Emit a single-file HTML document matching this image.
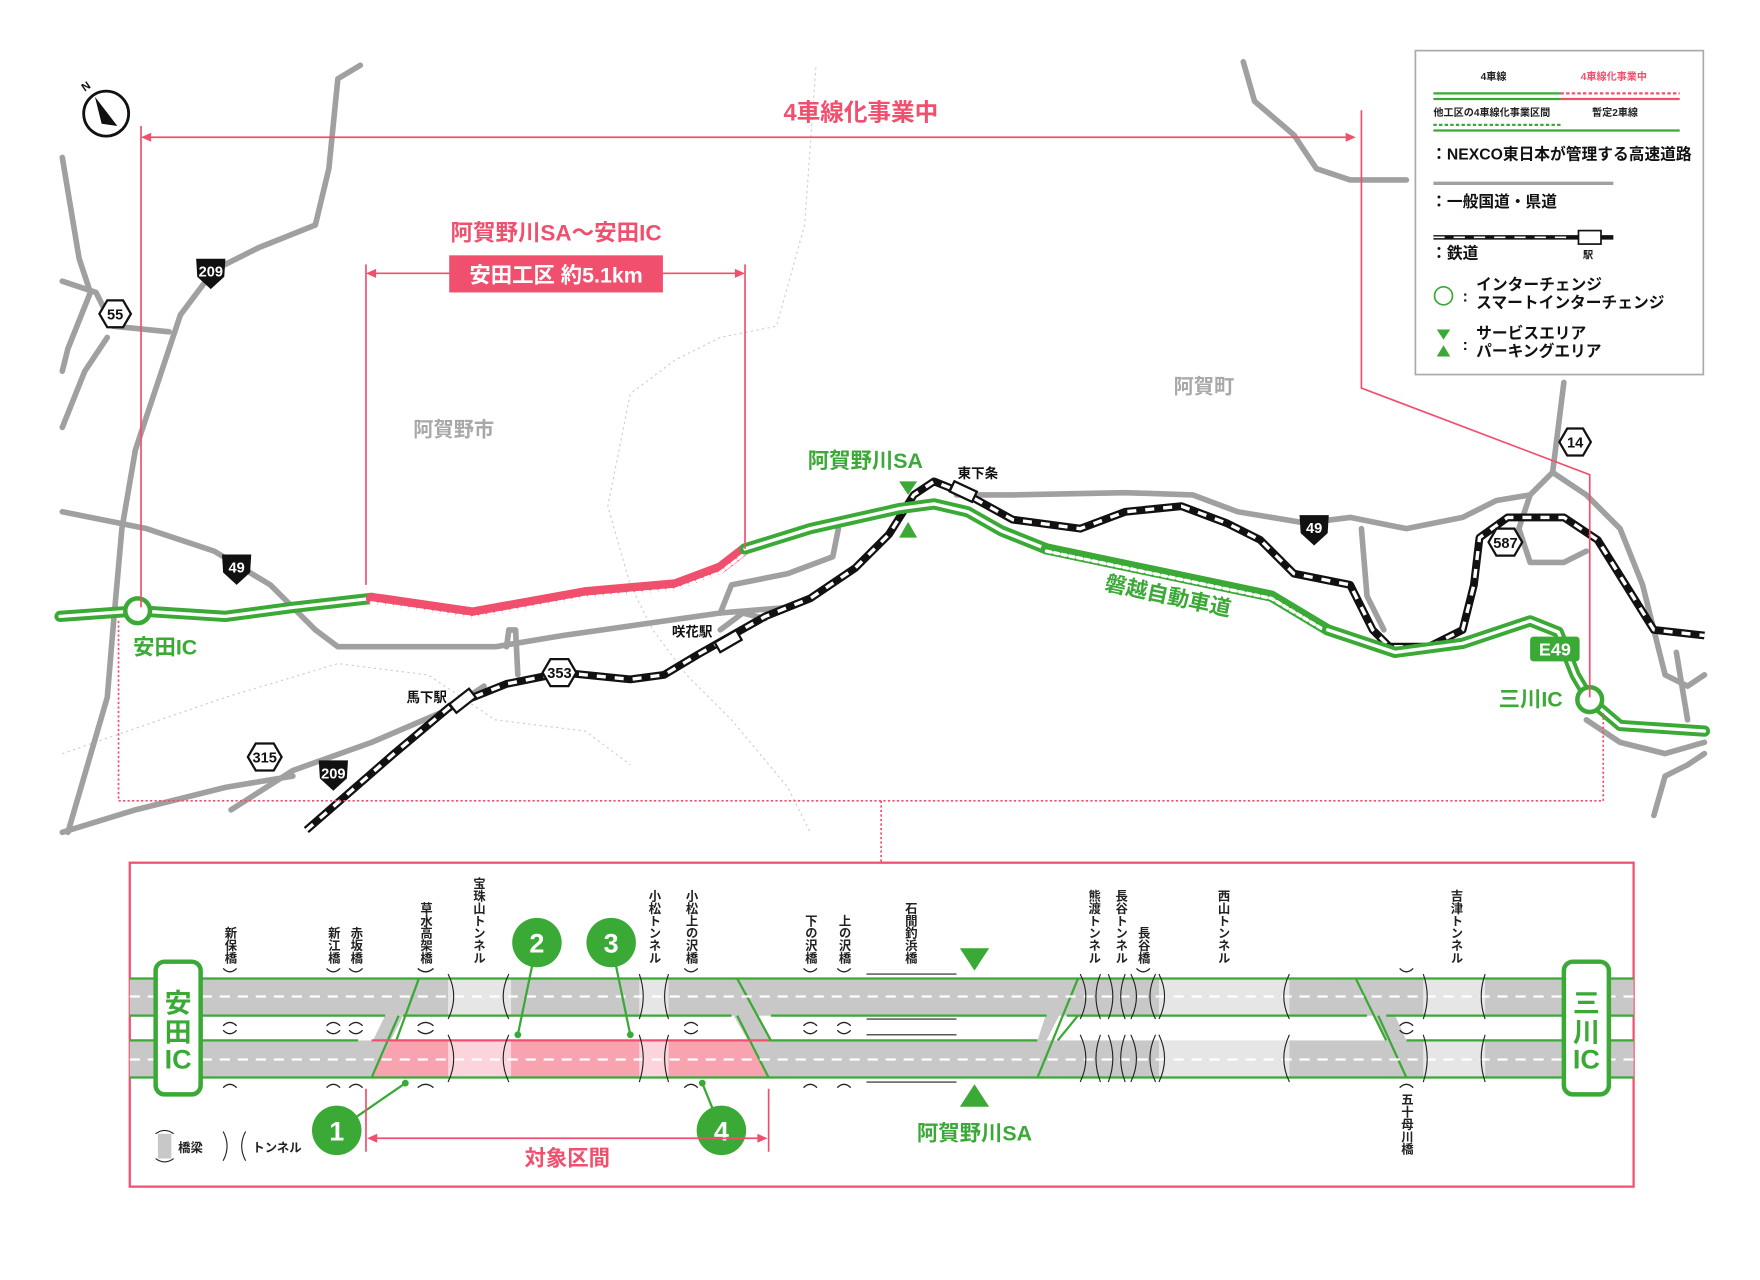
<!DOCTYPE html>
<html><head><meta charset="utf-8"><style>
html,body{margin:0;padding:0;background:#fff}
svg{display:block}
text{font-family:"Liberation Sans","Noto Sans CJK JP",sans-serif;font-weight:bold}
</style></head><body>
<svg width="1760" height="1280" viewBox="0 0 1564 1138" xmlns="http://www.w3.org/2000/svg">
<rect width="1564" height="1138" fill="#fff"/>
<g fill="none" stroke="#ccc" stroke-width="1" stroke-dasharray="2 3">
<path d="M725 60 L715 200 L690 290 L640 300 L600 320 L560 350 L540 450 L560 520 L580 560 L610 600 L650 640 L700 700 L720 740"/>
<path d="M55 670 L200 620 L300 590 L380 600 L440 640 L520 650 L560 680"/>
</g>
<g fill="none" stroke="#a0a0a0" stroke-width="5" stroke-linecap="round" stroke-linejoin="round">
<path d="M320 58 L300 70 L292 150 L280 200 L230 220 L190 240 L160 280 L140 340 L120 400 L108 470 L100 560 L95 620 L60 740"/>
<path d="M55 140 L70 230 L80 260 L60 310 L55 330"/>
<path d="M55 250 L85 260 L100 290 L150 295"/>
<path d="M55 380 L75 330 L95 300"/>
<path d="M55 455 L130 470 L190 490 L240 520 L280 560 L300 575 L440 575 L500 565 L640 545 L700 540"/>
<path d="M640 545 L650 520 L700 510 L740 495 L745 470"/>
<path d="M450 575 L452 560 L458 560 L460 600"/>
<path d="M205 720 L260 685 L330 660 L400 630 L430 610"/>
<path d="M55 740 L120 720 L200 700 L260 690"/>
<path d="M640 560 L660 545 L680 550"/>
<path d="M850 440 L900 440 L1000 438 L1060 440 L1100 455 L1160 465 L1200 460 L1250 470 L1300 460 L1330 445 L1360 440"/>
<path d="M1105 55 L1115 90 L1150 120 L1170 150 L1200 160 L1250 160"/>
<path d="M1390 340 L1385 380 L1380 420 L1360 440 L1350 470 L1360 500 L1390 500 L1410 490"/>
<path d="M1380 420 L1410 440 L1440 470 L1460 520 L1470 560 L1480 600 L1500 610 L1515 600"/>
<path d="M1410 640 L1440 660 L1480 670 L1515 660"/>
<path d="M1470 725 L1480 690 L1500 680 L1515 670"/>
<path d="M1210 470 L1215 530 L1230 560"/>
<path d="M1490 580 L1500 640"/>
</g>
<path d="M272 738 L350 670 L400 628 L450 608 L500 598 L560 604 L590 600 L620 582 L650 565 L680 548 L720 532 L760 505 L790 475 L812 440 L830 428 L860 440 L900 462 L960 470 L1000 455 L1050 450 L1090 465 L1120 480 L1150 510 L1200 520 L1220 560 L1235 575 L1270 575 L1300 560 L1310 520 L1315 478 L1340 460 L1390 460 L1420 480 L1445 520 L1470 560 L1515 565" fill="none" stroke="#111" stroke-width="7" stroke-linejoin="round"/>
<path d="M272 738 L350 670 L400 628 L450 608 L500 598 L560 604 L590 600 L620 582 L650 565 L680 548 L720 532 L760 505 L790 475 L812 440 L830 428 L860 440 L900 462 L960 470 L1000 455 L1050 450 L1090 465 L1120 480 L1150 510 L1200 520 L1220 560 L1235 575 L1270 575 L1300 560 L1310 520 L1315 478 L1340 460 L1390 460 L1420 480 L1445 520 L1470 560 L1515 565" fill="none" stroke="#fff" stroke-width="3" stroke-dasharray="8 8" stroke-linejoin="round"/>
<g fill="#fff" stroke="#111" stroke-width="2">
<rect x="400" y="618" width="22" height="10" transform="rotate(-38 411 623)"/>
<rect x="636" y="565" width="22" height="10" transform="rotate(-30 647 570)"/>
<rect x="845" y="432" width="22" height="10" transform="rotate(25 856 437)"/>
</g>
<g fill="none" stroke-linejoin="round" stroke-linecap="round">
<path d="M53 548 L122 543 L200 548 L260 540 L330 532" stroke="#3aa935" stroke-width="10"/>
<path d="M53 548 L122 543 L200 548 L260 540 L330 532" stroke="#fff" stroke-width="3"/>
<path d="M330 532 L420 545 L520 527 L600 520 L640 505 L662 488" stroke="#f0506e" stroke-width="10"/>
<path d="M330 536 L420 549 L520 531 L600 524 L640 509 L662 492" stroke="#fff" stroke-width="3" stroke-dasharray="4 3"/>
<path d="M330 531 L420 544 L520 526 L600 519 L640 504 L662 487" stroke="#f0506e" stroke-width="3"/>
<path d="M662 488 L720 470 L800 452 L830 448 L860 455 L890 472 L930 488" stroke="#3aa935" stroke-width="10"/>
<path d="M662 488 L720 470 L800 452 L830 448 L860 455 L890 472 L930 488" stroke="#fff" stroke-width="3"/>
<path d="M930 488 L1130 530 L1180 560" stroke="#3aa935" stroke-width="10"/>
<path d="M930 490 L1130 532 L1180 562" stroke="#fff" stroke-width="3" stroke-dasharray="4 3"/>
<path d="M1180 560 L1240 580 L1300 572 L1360 552 L1385 562 L1400 600 L1413 622 L1440 645 L1515 650" stroke="#3aa935" stroke-width="10"/>
<path d="M1180 560 L1240 580 L1300 572 L1360 552 L1385 562 L1400 600 L1413 622 L1440 645 L1515 650" stroke="#fff" stroke-width="3"/>
</g>
<circle cx="122" cy="543" r="11" fill="#fff" stroke="#3aa935" stroke-width="4"/>
<circle cx="1413" cy="622" r="11" fill="#fff" stroke="#3aa935" stroke-width="4"/>
<polygon points="799,428 815,428 807,440" fill="#3aa935"/>
<polygon points="799,478 815,478 807,464" fill="#3aa935"/>
<g stroke="#f0506e" stroke-width="1.5" fill="none">
<path d="M125 112 L125 540"/>
<path d="M131 122 L1199 122"/>
<path d="M1210 98 L1210 345 L1413 422 L1413 620"/>
<path d="M325 235 L325 520"/><path d="M662 235 L662 488"/>
<path d="M331 243 L655 243"/>
<path d="M105 552 L105 712 L1425 712 L1425 632" stroke-dasharray="2 2"/>
<path d="M783 712 L783 767" stroke-dasharray="2 2"/>
</g>
<g fill="#f0506e"><polygon points="125,122 134,118 134,126"/><polygon points="1205,122 1196,118 1196,126"/>
<polygon points="325,243 334,239 334,247"/><polygon points="662,243 653,239 653,247"/></g>
<text x="765" y="107" font-size="21" fill="#f0506e" text-anchor="middle">4車線化事業中</text>
<text x="494" y="214" font-size="20" fill="#f0506e" text-anchor="middle">阿賀野川SA～安田IC</text>
<rect x="399" y="227" width="190" height="33" fill="#f0506e"/>
<text x="494" y="251" font-size="19" fill="#fff" text-anchor="middle">安田工区 約5.1km</text>
<text x="403" y="388" font-size="18" fill="#a8a8a8" text-anchor="middle">阿賀野市</text>
<text x="1070" y="350" font-size="18" fill="#a8a8a8" text-anchor="middle">阿賀町</text>
<text x="769" y="416" font-size="19" fill="#3aa935" text-anchor="middle">阿賀野川SA</text>
<text x="118" y="582" font-size="19" fill="#3aa935">安田IC</text>
<text x="1332" y="628" font-size="19" fill="#3aa935">三川IC</text>
<text x="978" y="537" font-size="19" fill="#3aa935" transform="rotate(12 1040 545)">磐越自動車道</text>
<rect x="1360" y="566" width="44" height="22" rx="3" fill="#3aa935"/>
<text x="1382" y="583" font-size="16" fill="#fff" text-anchor="middle" font-weight="normal">E49</text>
<g font-size="12" fill="#111"><text x="851" y="425">東下条</text><text x="597" y="566">咲花駅</text><text x="361" y="624">馬下駅</text></g>
<g font-size="13" text-anchor="middle">
<g transform="translate(187,242)"><path d="M-13,-12 L13,-12 L12,4 L0,15 L-12,4 Z" fill="#111"/><text y="4" fill="#fff">209</text></g>
<g transform="translate(210,505)"><path d="M-13,-12 L13,-12 L12,4 L0,15 L-12,4 Z" fill="#111"/><text y="4" fill="#fff">49</text></g>
<g transform="translate(1168,470)"><path d="M-13,-12 L13,-12 L12,4 L0,15 L-12,4 Z" fill="#111"/><text y="4" fill="#fff">49</text></g>
<g transform="translate(296,688)"><path d="M-13,-12 L13,-12 L12,4 L0,15 L-12,4 Z" fill="#111"/><text y="4" fill="#fff">209</text></g>
<g transform="translate(102,279)"><polygon points="-14,0 -7,-12 7,-12 14,0 7,12 -7,12" fill="#fff" stroke="#111" stroke-width="2"/><text y="5" fill="#111">55</text></g>
<g transform="translate(1400,393)"><polygon points="-14,0 -7,-12 7,-12 14,0 7,12 -7,12" fill="#fff" stroke="#111" stroke-width="2"/><text y="5" fill="#111">14</text></g>
<g transform="translate(497,598)"><polygon points="-15,0 -8,-12 8,-12 15,0 8,12 -8,12" fill="#fff" stroke="#111" stroke-width="2"/><text y="5" fill="#111">353</text></g>
<g transform="translate(235,673)"><polygon points="-15,0 -8,-12 8,-12 15,0 8,12 -8,12" fill="#fff" stroke="#111" stroke-width="2"/><text y="5" fill="#111">315</text></g>
<g transform="translate(1338,482)"><polygon points="-15,0 -8,-12 8,-12 15,0 8,12 -8,12" fill="#fff" stroke="#111" stroke-width="2"/><text y="5" fill="#111">587</text></g>
</g>
<circle cx="94" cy="101" r="20" fill="#fff" stroke="#111" stroke-width="2.5"/>
<polygon points="84,86 104,112 90,110" fill="#111"/>
<text x="72" y="80" font-size="10" fill="#111" transform="rotate(-35 76 76)">N</text>
<rect x="1258" y="45" width="256" height="288" fill="#fff" stroke="#aaa" stroke-width="1.5"/>
<g font-size="9" fill="#222" font-weight="normal">
<text x="1316" y="71">4車線</text><text x="1405" y="71" fill="#f0506e">4車線化事業中</text>
<text x="1274" y="103">他工区の4車線化事業区間</text><text x="1415" y="103">暫定2車線</text></g>
<g fill="none" stroke-width="2">
<path d="M1274 88 L1387 88 M1274 83 L1387 83" stroke="#3aa935"/>
<path d="M1387 88 L1493 88" stroke="#f0506e"/><path d="M1387 83 L1493 83" stroke="#f0506e" stroke-dasharray="3 2"/>
<path d="M1274 116 L1387 116" stroke="#3aa935"/><path d="M1274 111 L1387 111" stroke="#3aa935" stroke-dasharray="3 2"/>
<path d="M1387 116 L1493 116" stroke="#3aa935"/>
<path d="M1274 163 L1434 163" stroke="#a0a0a0" stroke-width="3"/>
<path d="M1274 211 L1434 211" stroke="#111" stroke-width="4"/>
<path d="M1274 211 L1400 211" stroke="#fff" stroke-width="1.5" stroke-dasharray="10 8"/>
</g>
<rect x="1403" y="205" width="20" height="12" fill="#fff" stroke="#111" stroke-width="1.5"/>
<g font-size="14" fill="#111" font-weight="normal">
<text x="1272" y="142">：NEXCO東日本が管理する高速道路</text>
<text x="1272" y="184">：一般国道・県道</text>
<text x="1272" y="230">：鉄道</text><text x="1407" y="230" font-size="9">駅</text>
<text x="1312" y="258">インターチェンジ</text><text x="1312" y="274">スマートインターチェンジ</text>
<text x="1312" y="301">サービスエリア</text><text x="1312" y="317">パーキングエリア</text>
<text x="1300" y="268">:</text><text x="1300" y="311">:</text></g>
<circle cx="1283" cy="263" r="8" fill="none" stroke="#3aa935" stroke-width="1.5"/>
<polygon points="1277,293 1289,293 1283,302" fill="#3aa935"/><polygon points="1277,317 1289,317 1283,307" fill="#3aa935"/>

<rect x="115" y="767" width="1337" height="288" fill="#fff" stroke="#f0506e" stroke-width="2"/>
<g fill="#c8c8c8">
<rect x="115" y="870" width="1337" height="33"/>
<rect x="115" y="925" width="1337" height="33"/>
<polygon points="335,903 354,870 372,870 352,903"/>
</g>
<rect x="330" y="925" width="353" height="33" fill="#f9a3b1"/>
<g fill="#c8c8c8">
<polygon points="315,958 342,903 358,903 330,958"/>
<polygon points="655,870 685,925 683,958 652,903"/>
<polygon points="940,870 958,870 930,925 922,925"/>
<polygon points="1205,870 1225,870 1250,925 1232,925"/>
</g>
<g fill="#fff" fill-opacity="0.55">
<rect x="398" y="866" width="56" height="96"/><rect x="568" y="866" width="26" height="96"/>
<rect x="1030" y="866" width="116" height="96"/><rect x="1265" y="866" width="55" height="96"/>
</g>
<g stroke="#3aa935" stroke-width="2" fill="none">
<path d="M115 870 L1452 870 M115 958 L1452 958"/>
<path d="M115 903 L342 903 M358 903 L650 903 M683 925 L922 925 M1250 925 L1452 925"/>
<path d="M115 925 L318 925 M685 903 L930 903 M948 903 L1215 903 M1232 903 L1452 903"/>
<path d="M330 958 L354 903 M352 925 L372 870 M655 870 L685 925 M683 958 L655 903"/>
<path d="M922 958 L958 870 M940 925 L958 903"/>
<path d="M1205 870 L1232 925 M1225 903 L1250 958"/>
</g>
<path d="M330 925 L683 925" stroke="#f0506e" stroke-width="2"/>
<g stroke="#fff" stroke-width="2" stroke-dasharray="9 7"><path d="M115 886 L1452 886 M115 942 L1452 942"/></g>
<g stroke="#222" stroke-width="1" fill="none">
<path d="M398 866 Q408 886 398 906 M452 866 Q442 886 452 906 M398 920 Q408 941 398 962 M452 920 Q442 941 452 962"/>
<path d="M568 866 Q575 886 568 906 M594 866 Q587 886 594 906 M568 920 Q575 941 568 962 M594 920 Q587 941 594 962"/>
<path d="M1030 866 Q1040 886 1030 906 M1146 866 Q1136 886 1146 906 M1030 920 Q1040 941 1030 962 M1146 920 Q1136 941 1146 962"/>
<path d="M1265 866 Q1272 886 1265 906 M1320 866 Q1313 886 1320 906 M1265 920 Q1272 941 1265 962 M1320 920 Q1313 941 1320 962"/>
<path d="M960 866 Q970 886 960 906 M978 866 Q970 886 978 906 M985 866 Q993 886 985 906 M1000 866 Q992 886 1000 906 M960 920 Q970 941 960 962 M978 920 Q970 941 978 962 M985 920 Q993 941 985 962 M1000 920 Q992 941 1000 962"/>
<path d="M1005 866 Q1015 886 1005 906 M1027 866 Q1017 886 1027 906 M1005 920 Q1015 941 1005 962 M1027 920 Q1017 941 1027 962"/>
<path d="M770 866 L850 866 M770 906 L850 906 M770 920 L850 920 M770 962 L850 962"/>
</g>
<g stroke="#222" stroke-width="1.2" fill="none">
<path d="M198 861 Q204 867 210 861 M198 912 Q204 906 210 912 M198 916 Q204 922 210 916 M198 967 Q204 961 210 967"/>
<path d="M290 861 Q296 867 302 861 M290 912 Q296 906 302 912 M290 916 Q296 922 302 916 M290 967 Q296 961 302 967"/>
<path d="M310 861 Q316 867 322 861 M310 912 Q316 906 322 912 M310 916 Q316 922 322 916 M310 967 Q316 961 322 967"/>
<path d="M371 861 Q378 867 385 861 M371 912 Q378 906 385 912 M371 916 Q378 922 385 916 M371 967 Q378 961 385 967"/>
<path d="M608 861 Q614 867 620 861 M608 912 Q614 906 620 912 M608 916 Q614 922 620 916 M608 967 Q614 961 620 967"/>
<path d="M714 861 Q720 867 726 861 M714 912 Q720 906 726 912 M714 916 Q720 922 726 916 M714 967 Q720 961 726 967"/>
<path d="M744 861 Q750 867 756 861 M744 912 Q750 906 756 912 M744 916 Q750 922 756 916 M744 967 Q750 961 756 967"/>
<path d="M1244 861 Q1250 867 1256 861 M1244 912 Q1250 906 1256 912 M1244 916 Q1250 922 1256 916 M1244 967 Q1250 961 1256 967"/>
<path d="M1010 861 Q1016 867 1022 861"/>
</g>
<rect x="138" y="855" width="40" height="118" rx="8" fill="#fff" stroke="#3aa935" stroke-width="4"/>
<rect x="1390" y="855" width="40" height="118" rx="8" fill="#fff" stroke="#3aa935" stroke-width="4"/>
<g font-size="24" fill="#3aa935" text-anchor="middle"><text x="158" y="900">安</text><text x="158" y="926">田</text><text x="158" y="950">IC</text>
<text x="1410" y="900">三</text><text x="1410" y="926">川</text><text x="1410" y="950">IC</text></g>
<polygon points="853,843 879,843 866,863" fill="#3aa935"/>
<polygon points="853,984 879,984 866,964" fill="#3aa935"/>
<text x="866" y="1014" font-size="19" fill="#3aa935" text-anchor="middle">阿賀野川SA</text>
<g font-size="11" fill="#222" text-anchor="end" style="writing-mode:vertical-rl">
<text x="204" y="857">新保橋</text><text x="296" y="857">新江橋</text><text x="316" y="857">赤坂橋</text>
<text x="378" y="857">草水高架橋</text><text x="425" y="857">宝珠山トンネル</text>
<text x="581" y="857">小松トンネル</text><text x="614" y="857">小松上の沢橋</text>
<text x="720" y="857">下の沢橋</text><text x="750" y="857">上の沢橋</text><text x="809" y="857">石間釣浜橋</text>
<text x="972" y="857">熊渡トンネル</text><text x="996" y="857">長谷トンネル</text><text x="1016" y="857">長谷橋</text>
<text x="1087" y="857">西山トンネル</text><text x="1294" y="857">吉津トンネル</text>
</g>
<text x="1250" y="972" font-size="11" fill="#222" style="writing-mode:vertical-rl">五十母川橋</text>
<g stroke="#3aa935" stroke-width="2"><path d="M299 1005 L360 963 M477 838 L460 920 M543 838 L560 920 M641 1005 L624 963"/></g>
<g fill="#3aa935"><circle cx="360" cy="963" r="3"/><circle cx="460" cy="920" r="3"/><circle cx="560" cy="920" r="3"/><circle cx="624" cy="963" r="3"/>
<circle cx="299" cy="1005" r="22"/><circle cx="477" cy="838" r="22"/><circle cx="543" cy="838" r="22"/><circle cx="641" cy="1005" r="22"/></g>
<g font-size="24" fill="#fff" text-anchor="middle"><text x="299" y="1014">1</text><text x="477" y="847">2</text><text x="543" y="847">3</text><text x="641" y="1014">4</text></g>
<g stroke="#f0506e" stroke-width="1.5"><path d="M325 968 L325 1024 M683 968 L683 1024 M332 1012 L676 1012"/></g>
<g fill="#f0506e"><polygon points="326,1012 335,1008 335,1016"/><polygon points="682,1012 673,1008 673,1016"/></g>
<text x="504" y="1036" font-size="19" fill="#f0506e" text-anchor="middle">対象区間</text>
<rect x="140" y="1008" width="12" height="22" fill="#c8c8c8"/>
<path d="M138 1008 Q146 1002 154 1008 M138 1030 Q146 1036 154 1030" stroke="#222" fill="none"/>
<text x="158" y="1024" font-size="11" fill="#222">橋梁</text>
<path d="M198 1006 Q205 1019 198 1032 M218 1006 Q211 1019 218 1032" stroke="#222" fill="none"/>
<text x="224" y="1024" font-size="11" fill="#222">トンネル</text>
</svg>
</body></html>
